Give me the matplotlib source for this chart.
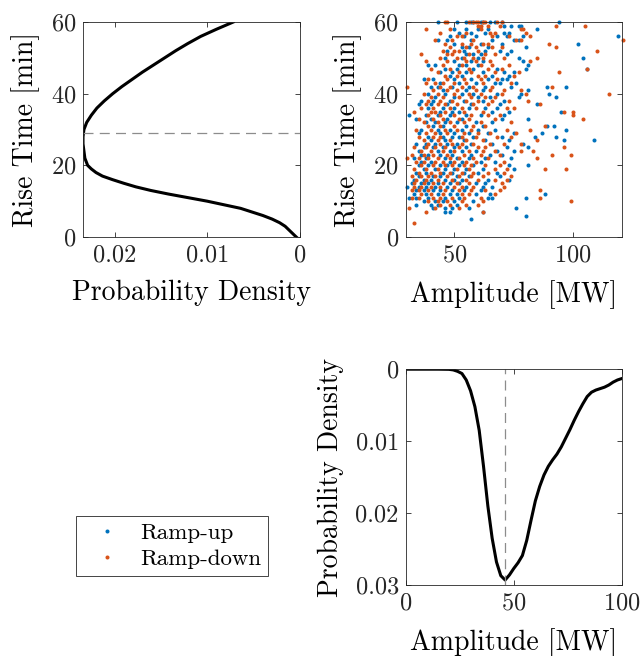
import matplotlib
matplotlib.use('Agg')
import matplotlib.pyplot as plt
from matplotlib.lines import Line2D

# --- data ---
rise_curve = [0, 1, 2, 3, 4, 5, 6, 7, 8, 9, 10, 11, 12, 13, 14, 15, 16, 17, 18, 19,
              20, 22, 24, 26, 28, 30, 32, 34, 36, 38, 40, 42, 44, 46, 48, 50, 52,
              54, 56, 58, 60]
rise_dens = [0.0004, 0.0008, 0.0012, 0.0016, 0.0022, 0.0030, 0.0040, 0.0052,
             0.0064, 0.0082, 0.0100, 0.0121, 0.0142, 0.0161, 0.0177, 0.0190,
             0.0202, 0.0213, 0.0220, 0.0225, 0.0229, 0.0232, 0.0233, 0.0234,
             0.0234, 0.0233, 0.0230, 0.0225, 0.0219, 0.0211, 0.0202, 0.0192,
             0.0181, 0.0170, 0.0158, 0.0146, 0.0134, 0.0121, 0.0107, 0.0090,
             0.0072]
rise_mode = 29

amp_curve = [0, 5, 10, 15, 20, 22, 24, 26, 28, 30, 32, 34, 36, 38, 40, 42, 44, 46,
             48, 50, 52, 54, 56, 58, 60, 62, 64, 66, 68, 70, 72, 74, 76, 78, 80,
             82, 84, 86, 88, 90, 92, 94, 96, 98, 100]
amp_dens = [0, 0, 0, 0, 0.00002, 0.0001, 0.0003, 0.0006, 0.0015, 0.0030, 0.0052,
            0.0085, 0.0135, 0.0190, 0.0235, 0.0268, 0.0287, 0.0293, 0.0286,
            0.0277, 0.0269, 0.0259, 0.0238, 0.0210, 0.0183, 0.0163, 0.0147,
            0.0135, 0.0126, 0.0118, 0.0108, 0.0096, 0.0084, 0.0071, 0.0059,
            0.0048, 0.0038, 0.0032, 0.0029, 0.0027, 0.0025, 0.0022, 0.0018,
            0.0015, 0.0013]
amp_mode = 45.9

# scatter, one row per rise time (60 min down to 4 min)
rows = list(range(60, 3, -1))
up_rows = [
    [43, 51, 55, 57, 58, 61, 62, 65, 67, 70, 94],
    [71, 74, 77, 78],
    [50, 55, 60, 64, 85],
    [52, 57, 63, 71, 73],
    [48, 54, 59, 68, 72, 79, 119],
    [43, 47, 57, 66, 75, 77],
    [50, 61, 70, 102],
    [53, 56, 64, 80],
    [47, 54, 63, 69, 74],
    [55, 58, 61, 72],
    [46, 53, 60, 77, 104],
    [50, 57, 62, 79],
    [39, 42, 52, 55, 60, 81],
    [46, 51, 58, 68, 80, 106],
    [44, 49, 55, 62, 71, 75],
    [48, 53, 66, 73],
    [37, 41, 50, 57, 64, 70, 72],
    [44, 52, 59, 67, 69, 76],
    [40, 43, 49, 56, 63, 74, 89, 97],
    [45, 55, 62, 81],
    [39, 46, 53, 58, 68, 78, 90],
    [42, 50, 60, 65, 77, 93],
    [36, 41, 48, 54, 62, 71],
    [35, 40, 47, 57, 69, 85],
    [39, 45, 50, 56, 63, 68],
    [44, 49, 52, 66, 73, 95],
    [31, 38, 43, 48, 55, 61, 71],
    [34, 40, 47, 53, 70, 81],
    [38, 42, 46, 51, 59, 66],
    [41, 45, 55, 62, 89, 92],
    [36, 43, 48, 53, 60, 67, 97],
    [35, 44, 50, 56, 64, 75, 87],
    [39, 45, 49, 52, 58, 70, 84, 93],
    [40, 46, 54, 63, 73, 96, 109],
    [34, 38, 42, 47, 51, 57, 66, 79],
    [37, 41, 45, 50, 55, 72, 81],
    [35, 43, 48, 53, 59, 68, 75],
    [36, 39, 44, 49, 57, 65, 70],
    [33, 38, 46, 51, 56, 63, 74],
    [36, 40, 48, 53, 61, 67],
    [35, 39, 44, 47, 52, 58, 73, 81],
    [37, 42, 46, 50, 55, 62, 75],
    [34, 38, 45, 49, 54, 60, 68],
    [35, 41, 44, 51, 56, 69],
    [33, 37, 40, 46, 50, 53, 64, 73],
    [32, 36, 39, 43, 48, 52, 59, 63],
    [30, 35, 38, 42, 47, 55, 62, 66],
    [34, 37, 41, 44, 49, 54, 61],
    [33, 38, 43, 48, 51, 59, 65, 88],
    [31, 34, 39, 46, 52, 64, 66, 80],
    [37, 42, 45, 50, 58],
    [34, 40, 43, 51],
    [41, 46, 49, 56, 76],
    [46, 48, 62],
    [80],
    [57],
    [],
]
down_rows = [
    [46, 47, 56, 58, 59, 60, 62, 63, 68, 70],
    [60, 61, 64, 69, 93, 105],
    [38, 48, 61, 78, 79],
    [44, 55, 65, 67, 80],
    [51, 53, 66, 73, 82],
    [42, 49, 58, 76, 78, 121],
    [46, 53, 57, 62, 64, 90],
    [48, 55, 59, 66, 70, 93],
    [45, 50, 52, 60, 110],
    [36, 47, 49, 56, 63, 67],
    [44, 51, 54, 58, 62, 71, 85],
    [38, 47, 55, 59, 65, 82],
    [45, 53, 61, 66, 73],
    [40, 48, 56, 64, 70, 106],
    [43, 52, 57, 67, 77, 94],
    [46, 51, 60, 63, 75],
    [39, 47, 54, 61, 68],
    [38, 42, 45, 50, 55, 62, 74],
    [30, 44, 48, 53, 58, 66, 91],
    [41, 47, 51, 59, 65, 71, 78],
    [37, 43, 50, 56, 61, 70, 80, 115],
    [40, 45, 52, 57, 63, 67],
    [39, 44, 49, 55, 60, 66, 73, 81],
    [38, 43, 46, 51, 58, 64, 86],
    [36, 41, 48, 53, 59, 72, 75],
    [33, 40, 42, 46, 54, 62, 96, 100],
    [39, 44, 50, 57, 64, 69, 100],
    [35, 41, 45, 52, 56, 67, 104],
    [37, 43, 48, 54, 61, 74],
    [39, 44, 50, 58, 63, 88],
    [34, 40, 46, 51, 57, 72, 82],
    [38, 42, 47, 54, 60, 65, 76],
    [35, 41, 44, 53, 59, 68, 74],
    [37, 43, 48, 55, 62, 85],
    [39, 44, 49, 53, 58, 65, 71, 78],
    [33, 38, 42, 46, 52, 60, 63, 96],
    [36, 40, 45, 50, 56, 62, 67, 78, 83],
    [32, 37, 41, 47, 54, 61, 69, 91, 99],
    [30, 35, 39, 43, 48, 52, 58, 64, 85],
    [34, 37, 42, 45, 50, 55, 59, 71],
    [36, 41, 46, 49, 54, 57, 63, 69],
    [33, 38, 43, 51, 56, 67, 72, 88, 97],
    [35, 40, 44, 48, 53, 58, 64, 71],
    [32, 36, 39, 42, 47, 52, 57, 62, 74],
    [34, 38, 43, 49, 55, 60, 67, 72],
    [33, 37, 41, 45, 51, 56, 70],
    [33, 36, 40, 44, 50, 53, 58, 71],
    [32, 35, 39, 46, 52, 57, 63, 69, 86],
    [36, 40, 45, 53, 56, 67],
    [32, 35, 41, 44, 49, 54, 61, 86],
    [39, 43, 47, 53, 62, 99],
    [44, 48, 55, 60],
    [31, 42, 52],
    [38, 62],
    [],
    [],
    [33],
]

blue = '#0072BD'
orange = '#D95319'
dark = '#262626'
gray = '#8c8c8c'

plt.rcParams['font.family'] = ['cmr10', 'DejaVu Serif']
plt.rcParams['axes.formatter.use_mathtext'] = True
plt.rcParams['axes.linewidth'] = 0.6
plt.rcParams['axes.edgecolor'] = dark
plt.rcParams['xtick.color'] = dark
plt.rcParams['ytick.color'] = dark

tick_fs = 17.5
label_fs = 20
ms = 2.9


def style(ax):
    ax.tick_params(direction='in', length=3.5, width=0.6, top=True, right=True,
                   labelsize=tick_fs, pad=5)


fig = plt.figure(figsize=(6.4, 6.56), dpi=100)

# top left: rise time density
ax1 = fig.add_axes([0.1297, 0.6387, 0.339, 0.3277])
ax1.plot(rise_dens, rise_curve, color='k', lw=2.2)
ax1.axhline(rise_mode, color=gray, lw=0.9, ls=(0, (8, 5)))
ax1.set_xlim(0.0234, 0)
ax1.set_ylim(0, 60)
ax1.set_xticks([0.02, 0.01, 0])
ax1.set_xticklabels(['0.02', '0.01', '0'])
ax1.set_yticks([0, 20, 40, 60])
ax1.set_xlabel('Probability Density', fontsize=label_fs, labelpad=10)
ax1.set_ylabel('Rise Time [min]', fontsize=label_fs, labelpad=8)
style(ax1)

# top right: scatter
ax2 = fig.add_axes([0.634, 0.6387, 0.3375, 0.3277])
for r, amps in zip(rows, up_rows):
    ax2.plot(amps, [r] * len(amps), 'o', color=blue, ms=ms, mew=0, clip_on=False)
for r, amps in zip(rows, down_rows):
    ax2.plot(amps, [r] * len(amps), 'o', color=orange, ms=ms, mew=0, clip_on=False)
ax2.set_xlim(29.5, 120.5)
ax2.set_ylim(0, 60)
ax2.set_xticks([50, 100])
ax2.set_yticks([0, 20, 40, 60])
ax2.set_xlabel('Amplitude [MW]', fontsize=label_fs, labelpad=10)
ax2.set_ylabel('Rise Time [min]', fontsize=label_fs, labelpad=8)
style(ax2)

# bottom right: amplitude density
ax3 = fig.add_axes([0.634, 0.1082, 0.3375, 0.329])
ax3.plot(amp_curve, amp_dens, color='k', lw=2.2)
ax3.axvline(amp_mode, color=gray, lw=0.9, ls=(0, (8, 5)))
ax3.set_xlim(0, 100)
ax3.set_ylim(0.03, 0)
ax3.set_xticks([0, 50, 100])
ax3.set_yticks([0, 0.01, 0.02, 0.03])
ax3.set_yticklabels(['0', '0.01', '0.02', '0.03'])
ax3.set_xlabel('Amplitude [MW]', fontsize=label_fs, labelpad=10)
ax3.set_ylabel('Probability Density', fontsize=label_fs, labelpad=8)
style(ax3)

# legend
handles = [Line2D([], [], ls='none', marker='o', color=blue, ms=ms, mew=0),
           Line2D([], [], ls='none', marker='o', color=orange, ms=ms, mew=0)]
leg = fig.legend(handles, ['Ramp-up', 'Ramp-down'], loc='upper left',
                 bbox_to_anchor=(0.119, 0.2134), frameon=True, fancybox=False,
                 edgecolor=dark, framealpha=1, fontsize=16.5, handlelength=2.1,
                 handletextpad=0.4, borderpad=0.3, labelspacing=0.25,
                 borderaxespad=0)
leg.get_frame().set_linewidth(0.6)

fig.savefig('out.png', dpi=100)
